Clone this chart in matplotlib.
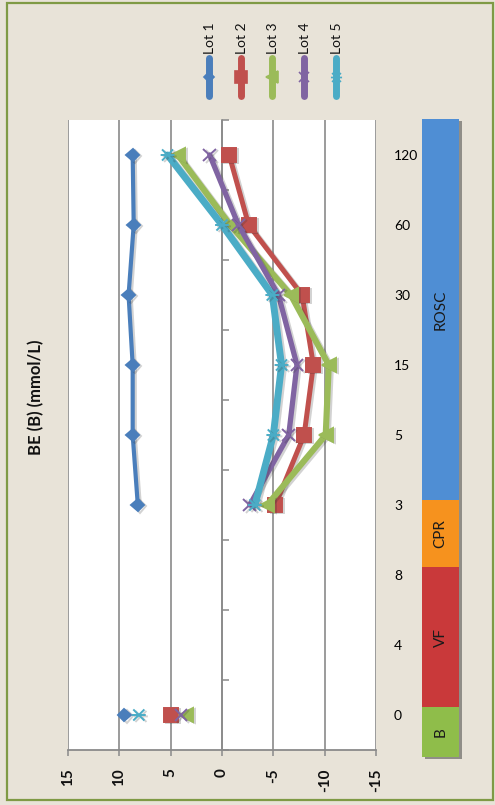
import numpy as np
import matplotlib
matplotlib.use("Agg")
import matplotlib.pyplot as plt
from matplotlib.patches import Rectangle
from matplotlib.path import Path
import matplotlib.patheffects as pe

plt.rcParams['font.family'] = ['Lato', 'DejaVu Sans']

# ---- data -------------------------------------------------------------
categories = ['0', '4', '8', '3', '5', '15', '30', '60', '120']
nan = np.nan
lot1 = [9.5, nan, nan, 8.2, 8.7, 8.7, 9.1, 8.6, 8.7]
lot2 = [5.0, nan, nan, -5.2, -8.0, -8.9, -7.8, -2.6, -0.7]
lot3 = [3.5, nan, nan, -4.4, -10.1, -10.4, -6.7, -0.8, 4.3]
lot4 = [4.0, nan, nan, -2.7, -6.5, -7.3, -5.5, -1.6, 1.2]
lot5 = [8.1, nan, nan, -3.2, -5.0, -5.8, -4.9, 0.0, 5.3]
series_names = ['Lot 1', 'Lot 2', 'Lot 3', 'Lot 4', 'Lot 5']
value_ticks = [15, 10, 5, 0, -5, -10, -15]
title = 'BE (B) (mmol/L)'

# protocol phases along the time axis (edges in category units)
phase_names = ['B', 'VF', 'CPR', 'ROSC']
phase_edges = [-0.6, 0.11, 2.11, 3.07, 8.51]

# ---- styling ----------------------------------------------------------
W, H = 495, 805
colors = ['#4a7ebb', '#c0504d', '#9bbb59', '#8064a2', '#4bacc6']
phase_colors = ['#8fbd4a', '#c9393a', '#f6921e', '#4f8ed4']
grid_c = '#8a8a8a'
bg = '#e8e3d8'

star = Path([(-1, -1), (1, 1), (-1, 1), (1, -1), (-1.25, 0), (1.25, 0)],
            [Path.MOVETO, Path.LINETO] * 3)
markers = ['D', 's', '<', 'x', star]
msizes = [6.5, 10, 10, 9, 10]
lwidths = [3.0, 3.6, 4.4, 3.8, 5.0]


def rect(x0, y0, x1, y1):
    """Pixel box (top-left origin) -> figure fraction [l, b, w, h]."""
    return [x0 / W, 1 - y1 / H, (x1 - x0) / W, (y1 - y0) / H]


fig = plt.figure(figsize=(W / 100, H / 100), dpi=100)
fig.patch.set_facecolor(bg)

# ---- main plot (time runs upward, values decrease to the right) -------
ax = fig.add_axes(rect(68, 120, 376, 750))
ax.set_facecolor('white')
ypos = np.arange(len(categories))
shadow = [pe.SimpleLineShadow(offset=(1.5, -1.0), alpha=0.22, shadow_color='#333333'),
          pe.Normal()]
for vals, c, m, ms, lw in zip([lot1, lot2, lot3, lot4, lot5], colors, markers,
                              msizes, lwidths):
    ax.plot(vals, ypos, color=c, lw=lw, marker=m, ms=ms, mfc=c, mec=c,
            mew=1.4, solid_joinstyle='round', solid_capstyle='round',
            path_effects=shadow, zorder=3)

ax.set_xlim(15, -15)
ax.set_ylim(-0.5, len(categories) - 0.5)
ax.set_xticks(value_ticks)
ax.set_xticklabels([str(v) for v in value_ticks], rotation=90,
                   fontsize=11, fontweight='bold', color='#111111')
ax.tick_params(axis='x', direction='out', length=4, width=1.1, color=grid_c, pad=9)
ax.xaxis.grid(True, color=grid_c, lw=1.2)
ax.set_axisbelow(True)

ax.set_yticks(ypos)
ax.set_yticklabels(categories, rotation=90, fontsize=10, color='#111111')
ax.set_yticks(np.arange(-0.5, len(categories), 1), minor=True)
ax.tick_params(axis='y', which='major', left=False, right=True, labelleft=False,
               labelright=True, length=0, pad=13)
ax.tick_params(axis='y', which='minor', left=True, right=False, direction='in',
               length=5, width=1.1, color=grid_c)

ax.spines['left'].set_position(('data', 0))
ax.spines['left'].set_color(grid_c)
ax.spines['left'].set_linewidth(1.2)
ax.spines['bottom'].set_color(grid_c)
ax.spines['bottom'].set_linewidth(1.3)
ax.spines['top'].set_visible(False)
ax.spines['right'].set_visible(False)

# ---- phase bar alongside the time axis --------------------------------
axb = fig.add_axes(rect(422, 120, 459, 750))
axb.set_xlim(-0.5, 0.5)
axb.set_ylim(ax.get_ylim())
axb.axis('off')
# one soft shadow behind the whole strip (only the shadow is drawn)
axb.bar(0, phase_edges[-1] - phase_edges[0], bottom=phase_edges[0], width=1.0,
        color='#444444', clip_on=False,
        path_effects=[pe.SimplePatchShadow(offset=(2.5, -1.5), alpha=0.5,
                                           shadow_rgbFace='#3a3a3a')])
for name, lo, hi, c in zip(phase_names, phase_edges[:-1], phase_edges[1:], phase_colors):
    axb.bar(0, hi - lo, bottom=lo, width=1.0, color=c, clip_on=False,
            edgecolor='none')
    axb.text(0, (lo + hi) / 2, name, rotation=90, ha='center', va='center',
             fontsize=11, color='#1a1a1a', clip_on=False)

# ---- legend (entries side by side, labels vertical) -------------------
axl = fig.add_axes(rect(190, 10, 360, 110))
axl.set_xlim(190, 360)
axl.set_ylim(110, 10)
axl.axis('off')
for i, (name, c, m, ms) in enumerate(zip(series_names, colors, markers, msizes)):
    x = 209 + i * 31.7
    axl.plot([x, x], [58, 96], color=c, lw=5, solid_capstyle='round')
    axl.plot([x], [77], marker=m, color=c, ms=ms * 0.8, mew=1.2)
    axl.text(x + 1, 54, name, rotation=90, ha='center', va='bottom',
             fontsize=10, color='#111111')

# ---- title and frame --------------------------------------------------
fig.text(36 / W, 1 - 397 / H, title, rotation=90, ha='center', va='center',
         fontsize=12, fontweight='bold', color='#111111')
fig.add_artist(Rectangle((7 / W, 1 - 800 / H), (493 - 7) / W, (800 - 3) / H,
                         transform=fig.transFigure, fill=False,
                         edgecolor='#7f9a45', lw=1.6))

fig.savefig('out.png', dpi=100, facecolor=fig.get_facecolor())
